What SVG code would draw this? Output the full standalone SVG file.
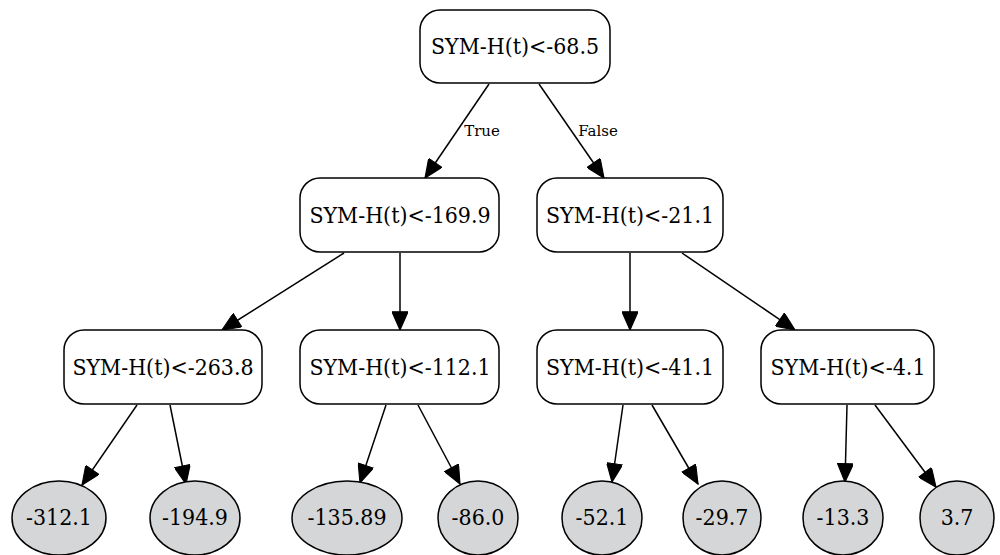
<svg xmlns="http://www.w3.org/2000/svg" width="1000" height="555" viewBox="0 0 1000 555">
<style>
.n rect{fill:#fff;stroke:#000;stroke-width:1.5}
.l ellipse{fill:#d5d6d8;stroke:#000;stroke-width:1.5}
text{font-family:"DejaVu Serif",serif;font-size:20.6px;text-anchor:middle;fill:#000}
.el{font-size:15px}
#edges line{stroke:#000;stroke-width:1.5;marker-end:url(#ah)}
</style>
<defs>
<marker id="ah" markerUnits="userSpaceOnUse" markerWidth="20" markerHeight="16" refX="16" refY="7" orient="auto" viewBox="0 0 16 14">
<path d="M0,0 L16,7 L0,14 Z" fill="#000" stroke="#000" stroke-width="1"/>
</marker>
</defs>
<rect width="1000" height="555" fill="#fff"/>
<g id="edges">
<line x1="489" y1="84" x2="425" y2="178"/>
<line x1="539" y1="84" x2="604" y2="178"/>
<line x1="344" y1="253" x2="222" y2="330"/>
<line x1="400" y1="253" x2="400" y2="330"/>
<line x1="630" y1="253" x2="630" y2="330"/>
<line x1="682" y1="253" x2="795" y2="330"/>
<line x1="137" y1="405" x2="82" y2="485"/>
<line x1="170" y1="405" x2="186" y2="484"/>
<line x1="386" y1="405" x2="360" y2="483"/>
<line x1="418" y1="405" x2="460" y2="484"/>
<line x1="623" y1="405" x2="612" y2="482"/>
<line x1="652" y1="405" x2="698" y2="484"/>
<line x1="847" y1="405" x2="845" y2="482"/>
<line x1="875" y1="405" x2="936" y2="487"/>
<text class="el" x="482" y="136">True</text>
<text class="el" x="598" y="136">False</text>
</g>
<g id="n0" class="n"><rect x="420" y="10" width="190" height="73" rx="20"/><text transform="translate(515,54) scale(1,1.1)">SYM-H(t)&lt;-68.5</text></g>
<g id="n1" class="n"><rect x="300" y="178" width="199" height="74" rx="20"/><text transform="translate(400,223) scale(1,1.1)">SYM-H(t)&lt;-169.9</text></g>
<g id="n2" class="n"><rect x="537" y="178" width="186" height="74" rx="20"/><text transform="translate(630,223) scale(1,1.1)">SYM-H(t)&lt;-21.1</text></g>
<g id="n3" class="n"><rect x="64" y="330" width="198" height="74" rx="20"/><text transform="translate(163,375) scale(1,1.1)">SYM-H(t)&lt;-263.8</text></g>
<g id="n4" class="n"><rect x="300" y="330" width="199" height="74" rx="20"/><text transform="translate(400,375) scale(1,1.1)">SYM-H(t)&lt;-112.1</text></g>
<g id="n5" class="n"><rect x="537" y="330" width="186" height="74" rx="20"/><text transform="translate(630,375) scale(1,1.1)">SYM-H(t)&lt;-41.1</text></g>
<g id="n6" class="n"><rect x="761" y="330" width="173" height="74" rx="20"/><text transform="translate(848,375) scale(1,1.1)">SYM-H(t)&lt;-4.1</text></g>
<g id="l0" class="l"><ellipse cx="59" cy="518" rx="47" ry="37"/><text transform="translate(59,525) scale(1,1.1)">-312.1</text></g>
<g id="l1" class="l"><ellipse cx="195" cy="518" rx="45" ry="37"/><text transform="translate(195,525) scale(1,1.1)">-194.9</text></g>
<g id="l2" class="l"><ellipse cx="347" cy="518" rx="55" ry="37"/><text transform="translate(347,525) scale(1,1.1)">-135.89</text></g>
<g id="l3" class="l"><ellipse cx="478" cy="518" rx="40" ry="37"/><text transform="translate(478,525) scale(1,1.1)">-86.0</text></g>
<g id="l4" class="l"><ellipse cx="602" cy="518" rx="40" ry="37"/><text transform="translate(602,525) scale(1,1.1)">-52.1</text></g>
<g id="l5" class="l"><ellipse cx="722" cy="518" rx="39" ry="37"/><text transform="translate(722,525) scale(1,1.1)">-29.7</text></g>
<g id="l6" class="l"><ellipse cx="843" cy="518" rx="40" ry="37"/><text transform="translate(843,525) scale(1,1.1)">-13.3</text></g>
<g id="l7" class="l"><ellipse cx="957" cy="518" rx="37" ry="37"/><text transform="translate(957,525) scale(1,1.1)">3.7</text></g>
</svg>
